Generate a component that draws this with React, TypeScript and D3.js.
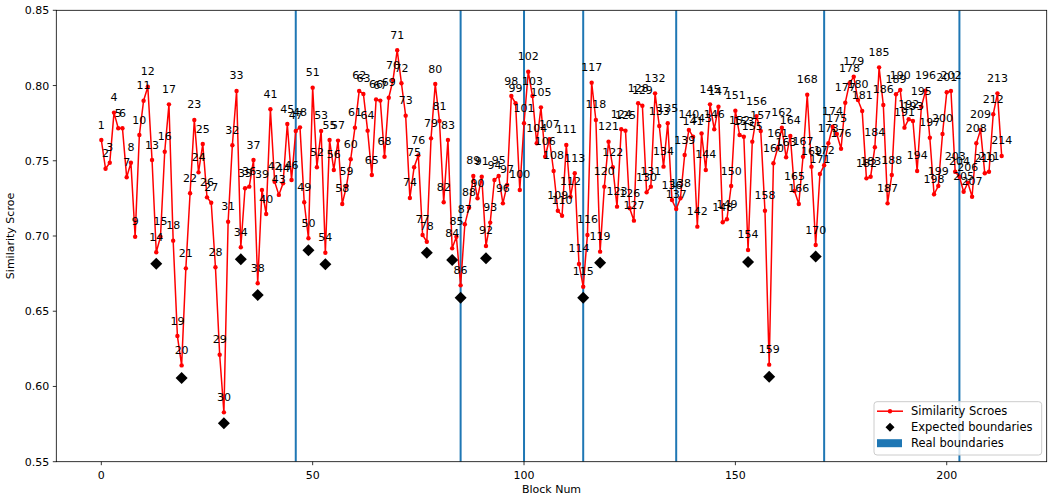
import React from 'react';
import * as d3 from 'd3';

// similarity score per block (block index = position in array)
const scores = [
  0.7638, 0.7447, 0.7487, 0.782, 0.7716, 0.7716, 0.739, 0.7487, 0.6995, 0.7671,
  0.7899, 0.7992, 0.7505, 0.6892, 0.6995, 0.756, 0.7875, 0.6969, 0.6335, 0.614,
  0.6785, 0.7284, 0.7771, 0.7423, 0.7611, 0.7257, 0.7221, 0.6792, 0.6211, 0.5828,
  0.7095, 0.7603, 0.7964, 0.6925, 0.7317, 0.7328, 0.7505, 0.6686, 0.7306, 0.7146,
  0.7842, 0.7361, 0.7273, 0.735, 0.7744, 0.7372, 0.7698, 0.7722, 0.7224, 0.6985,
  0.7986, 0.7457, 0.7698, 0.6889, 0.7638, 0.7439, 0.7634, 0.7213, 0.7332, 0.751,
  0.772, 0.7964, 0.7944, 0.77, 0.7405, 0.7908, 0.79, 0.7527, 0.7919, 0.8036,
  0.8235, 0.8015, 0.78, 0.7253, 0.7457, 0.7536, 0.7007, 0.6962, 0.7649, 0.801,
  0.7764, 0.7224, 0.7638, 0.6918, 0.6995, 0.6672, 0.7078, 0.7188, 0.7399, 0.7251,
  0.7394, 0.6934, 0.7089, 0.7372, 0.7399, 0.7217, 0.7339, 0.793, 0.7882, 0.7306,
  0.7749, 0.8092, 0.793, 0.7616, 0.7855, 0.7527, 0.7643, 0.7432, 0.7168, 0.7135,
  0.7605, 0.7261, 0.7417, 0.6814, 0.6663, 0.7007, 0.8019, 0.7771, 0.6896, 0.7328,
  0.7627, 0.7457, 0.7195, 0.7709, 0.77, 0.7184, 0.7102, 0.7882, 0.7866, 0.729,
  0.7328, 0.7948, 0.7731, 0.7461, 0.7749, 0.7239, 0.7179, 0.7251, 0.7538, 0.7705,
  0.766, 0.7062, 0.7682, 0.7439, 0.7875, 0.7709, 0.7859, 0.7091, 0.7111, 0.7332,
  0.7833, 0.7671, 0.766, 0.6907, 0.7627, 0.7797, 0.7698, 0.7168, 0.6145, 0.7483,
  0.7583, 0.772, 0.7523, 0.7665, 0.7299, 0.7213, 0.7527, 0.7939, 0.7461, 0.694,
  0.7412, 0.747, 0.7616, 0.7726, 0.7678, 0.758, 0.7886, 0.8015, 0.8059, 0.7904,
  0.7831, 0.7383, 0.7394, 0.759, 0.8121, 0.7871, 0.7217, 0.7405, 0.7942, 0.797,
  0.772, 0.7776, 0.7764, 0.7432, 0.7859, 0.7966, 0.7653, 0.7277, 0.7332, 0.7678,
  0.7955, 0.7964, 0.7427, 0.7394, 0.7294, 0.7354, 0.7261, 0.7616, 0.7705, 0.7417,
  0.7427, 0.7809, 0.7948, 0.7532,
];

// expected boundaries (block index, marker value)
const expectedIdx = [13, 19, 29, 33, 37, 49, 53, 77, 83, 85, 91, 114, 118, 153, 158, 169];
const expectedVal = [0.6816, 0.6056, 0.5755, 0.6845, 0.6608, 0.6905, 0.6812, 0.6889, 0.6841, 0.659, 0.6852, 0.659, 0.6823, 0.6827, 0.6065, 0.6863];

// real boundaries
const realBoundaries = [46, 85, 100, 114, 136, 171, 203];

const xTicks = [0, 50, 100, 150, 200];
const yTicks = [0.55, 0.6, 0.65, 0.7, 0.75, 0.8, 0.85];

const legendItems = ['Similarity Scroes', 'Expected boundaries', 'Real boundaries'];

const W = 1048;
const H = 497;
const FONT = 'DejaVu Sans, sans-serif';

export default function App() {
  const left = 56.3, right = 1046.7, top = 10.3, bottom = 461.7;
  const pad = (scores.length - 1) * 0.05;
  const x = d3.scaleLinear().domain([-pad, scores.length - 1 + pad]).range([left, right]);
  const y = d3.scaleLinear().domain([0.55, 0.85]).range([bottom, top]);

  const line = d3.line<number>().x((_, i) => x(i)).y(d => y(d));
  const diamond = (cx: number, cy: number, r: number) =>
    `M${cx},${cy - r}L${cx + r},${cy}L${cx},${cy + r}L${cx - r},${cy}Z`;

  const lx = 874, ly = 401.7, lw = right - 5 - lx, lh = 53.3;

  return (
    <svg width={W} height={H} style={{ position: 'absolute', left: 0, top: 0, background: 'white' }} fontFamily={FONT}>
      <defs>
        <clipPath id="plot">
          <rect x={left} y={top} width={right - left} height={bottom - top} />
        </clipPath>
      </defs>

      {/* real boundaries */}
      <g clipPath="url(#plot)">
        {realBoundaries.map(b => (
          <line key={b} x1={x(b)} x2={x(b)} y1={top} y2={bottom} stroke="#1f77b4" strokeWidth={2} />
        ))}
      </g>

      {/* score line */}
      <path d={line(scores) || ''} fill="none" stroke="red" strokeWidth={1.5} />
      {scores.map((s, i) => (
        <circle key={i} cx={x(i)} cy={y(s)} r={2.2} fill="red" />
      ))}

      {/* expected boundaries */}
      {expectedIdx.map((b, i) => (
        <path key={b} d={diamond(x(b), y(expectedVal[i]), 6)} fill="black" />
      ))}

      {/* point labels */}
      {scores.map((s, i) => (
        <text key={i} x={x(i)} y={y(s) - 11.5} fontSize={11} textAnchor="middle" fill="#000">{i + 1}</text>
      ))}

      {/* frame */}
      <rect x={left} y={top} width={right - left} height={bottom - top} fill="none" stroke="black" strokeWidth={0.8} />

      {/* x axis */}
      {xTicks.map(t => (
        <g key={t}>
          <line x1={x(t)} x2={x(t)} y1={bottom} y2={bottom + 3.5} stroke="black" strokeWidth={0.8} />
          <text x={x(t)} y={bottom + 17} fontSize={11} textAnchor="middle" fill="#000">{t}</text>
        </g>
      ))}
      <text x={(left + right) / 2} y={493} fontSize={11} textAnchor="middle" fill="#000">Block Num</text>

      {/* y axis */}
      {yTicks.map(t => (
        <g key={t}>
          <line x1={left - 3.5} x2={left} y1={y(t)} y2={y(t)} stroke="black" strokeWidth={0.8} />
          <text x={left - 7} y={y(t) + 4} fontSize={11} textAnchor="end" fill="#000">{t.toFixed(2)}</text>
        </g>
      ))}
      <text transform={`translate(14,${(top + bottom) / 2}) rotate(-90)`} fontSize={11} textAnchor="middle" fill="#000">Similarity Scroe</text>

      {/* legend */}
      <g>
        <rect x={lx} y={ly} width={lw} height={lh} rx={3} fill="white" fillOpacity={0.8} stroke="#cccccc" strokeWidth={1} />
        {legendItems.map((name, i) => {
          const cy = ly + 9.5 + i * 16;
          return (
            <g key={name}>
              {i === 0 && (
                <g>
                  <line x1={877} x2={903} y1={cy} y2={cy} stroke="red" strokeWidth={1.5} />
                  <circle cx={890} cy={cy} r={2.2} fill="red" />
                </g>
              )}
              {i === 1 && <path d={diamond(890, cy, 4.5)} fill="black" />}
              {i === 2 && <rect x={877} y={cy - 4} width={25} height={8} fill="#1f77b4" />}
              <text x={911} y={cy + 4} fontSize={11.5} fill="#000">{name}</text>
            </g>
          );
        })}
      </g>
    </svg>
  );
}
